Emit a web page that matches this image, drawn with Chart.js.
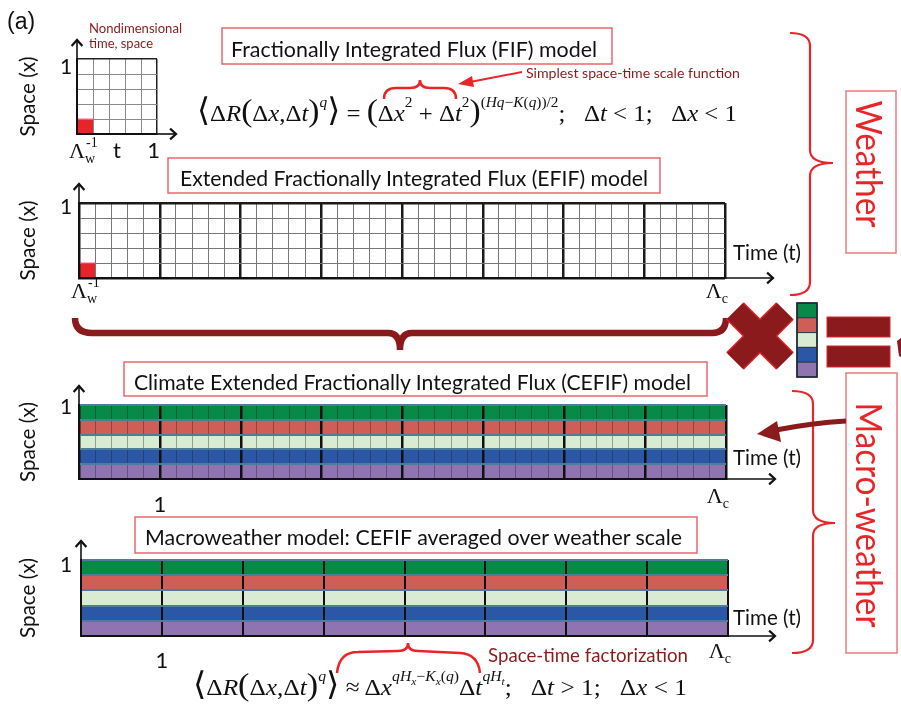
<!DOCTYPE html>
<html>
<head>
<meta charset="utf-8">
<title>FIF / CEFIF space-time models</title>
<script src="https://cdn.jsdelivr.net/npm/chart.js"></script>
<style>
  html, body { margin: 0; padding: 0; background: #fff; }
  #fig { position: relative; width: 901px; height: 705px; overflow: hidden; background: #fff; }
  #fig canvas { position: absolute; }
  #overlay { position: absolute; left: 0; top: 0; pointer-events: none; }
</style>
</head>
<body>
<div id="fig">
  <svg id="overlay" width="901" height="705" xmlns="http://www.w3.org/2000/svg"></svg>
</div>
<script>
// space is split into five bands, listed top to bottom
const spaceBands = ['0.8-1.0', '0.6-0.8', '0.4-0.6', '0.2-0.4', '0.0-0.2'];
const bandColors = ['#078a48', '#cf5f56', '#d9ebd3', '#2c57a7', '#8f74b1'];

// time extent of each model, in units of the weather scale
const fifSpan = 1;
const climateSpan = 8;

// one weather-resolution cell (Λw^-1), same size in space and time
const cellSize = 0.2;
const smallestCell = [0, cellSize];

// time-axis tick labels: [value, label]  (base_sub^sup)
const fifTicks = [[0, 'Λ_w^-1'], [0.5, 't'], [1, '1']];
const efifTicks = [[0, 'Λ_w^-1'], [8, 'Λ_c']];
const cefifTicks = [[1, '1'], [8, 'Λ_c']];
const macroTicks = [[1, '1'], [8, 'Λ_c']];

const SANS = "Lato, 'Open Sans', sans-serif";
const SERIF = "'Liberation Serif', 'DejaVu Serif', serif";
const RED = '#e8262a';
const DARKRED = '#8b1a1c';
const PAD = 3;

const fig = document.getElementById('fig');
const svg = document.getElementById('overlay');
const NS = 'http://www.w3.org/2000/svg';

function el(tag, attrs, parent = svg) {
  const e = document.createElementNS(NS, tag);
  for (const k in attrs) e.setAttribute(k, attrs[k]);
  parent.appendChild(e);
  return e;
}

function txt(x, y, s, o = {}) {
  const t = el('text', {
    x, y,
    'font-family': o.font || SANS,
    'font-size': o.size || 20,
    fill: o.fill || '#111',
    'text-anchor': o.anchor || 'start'
  });
  if (o.len) {
    t.setAttribute('textLength', o.len);
    t.setAttribute('lengthAdjust', 'spacingAndGlyphs');
  }
  if (o.rot) t.setAttribute('transform', `rotate(${o.rot} ${x} ${y})`);
  t.textContent = s;
  return t;
}

// formula text: lv 0 = base, 1 = superscript, 2 = subscript inside a superscript
function mathText(x, y, parts, size, len) {
  const t = el('text', { x, y, 'font-family': SERIF, 'font-size': size, fill: '#111' });
  const shifts = { 0: 0, 1: -14, 2: -10 };
  const sizes = { 0: size, 1: size * 0.62, 2: size * 0.45 };
  let shift = 0;
  for (const p of parts) {
    const lv = p.lv || 0;
    const s = el('tspan', { dy: shifts[lv] - shift, 'font-size': p.big ? size * 1.35 : sizes[lv] }, t);
    if (p.i) s.setAttribute('font-style', 'italic');
    s.textContent = p.t;
    shift = shifts[lv];
  }
  if (len) {
    t.setAttribute('textLength', len);
    t.setAttribute('lengthAdjust', 'spacingAndGlyphs');
  }
}

// axis label like Λ_w^-1 : base, optional subscript, optional superscript
function tickLabel(x, y, label, anchor) {
  const m = label.match(/^([^_^]+)(?:_([^^]+))?(?:\^(.+))?$/);
  const serif = m[1] === 'Λ';
  const t = el('text', { x, y, 'font-family': serif ? SERIF : SANS, 'font-size': 22, fill: '#111', 'text-anchor': anchor });
  el('tspan', {}, t).textContent = m[1];
  if (m[2]) el('tspan', { dy: 5, 'font-size': 14 }, t).textContent = m[2];
  if (m[3]) el('tspan', { dx: m[2] ? -9 : 0, dy: m[2] ? -16 : -10, 'font-size': 14 }, t).textContent = m[3];
}

function axisArrow(x1, y1, x2, y2) {
  el('line', { x1, y1, x2, y2, stroke: '#111', 'stroke-width': 1.6 });
  const a = Math.atan2(y2 - y1, x2 - x1), s = 8;
  const p1 = [x2 + s * Math.cos(a + 2.4), y2 + s * Math.sin(a + 2.4)];
  const p2 = [x2 + s * Math.cos(a - 2.4), y2 + s * Math.sin(a - 2.4)];
  el('polyline', { points: `${p1} ${x2},${y2} ${p2}`, fill: 'none', stroke: '#111', 'stroke-width': 2.2 });
}

// grid panels (pixel box of the plot area and styling)
const panels = [
  { x: 77, y: 59, w: 80, h: 75, span: fifSpan, step: cellSize, colored: false, ticks: fifTicks,
    inner: '#8a8a8a', frame: '#222', thick: 1.5, oneDy: 15, lamDy: 24, numDy: 24, arrowTo: 176, timeBase: null },
  { x: 79, y: 203, w: 646, h: 75, span: climateSpan, step: cellSize, colored: false, ticks: efifTicks,
    inner: '#777', frame: '#1a1a1a', thick: 2.5, oneDy: 11, lamDy: 20, numDy: 20, arrowTo: 773, timeBase: 260 },
  { x: 79, y: 405, w: 647, h: 74, span: climateSpan, step: cellSize, colored: true, ticks: cefifTicks,
    inner: 'rgba(25,25,25,0.36)', frame: '#111', thick: 2.5, oneDy: 9, lamDy: 24, numDy: 33, arrowTo: 775, timeBase: 465 },
  { x: 81, y: 560, w: 647, h: 76, span: climateSpan, step: 1, colored: true, ticks: macroTicks,
    inner: '#111', frame: '#111', thick: 2, oneDy: 12, lamDy: 22, numDy: 32, arrowTo: 775, timeBase: 625 }
];

const isWhole = v => Math.abs(v - Math.round(v)) < 1e-6;

function buildPanel(p) {
  const canvas = document.createElement('canvas');
  canvas.width = p.w + 2 * PAD;
  canvas.height = p.h + 2 * PAD;
  canvas.style.left = (p.x - PAD) + 'px';
  canvas.style.top = (p.y - PAD) + 'px';
  fig.insertBefore(canvas, svg);

  const data = p.colored
    ? spaceBands.map(() => [0, p.span])
    : spaceBands.map((b, i) => (i === spaceBands.length - 1 ? smallestCell : null));

  const bandLine = '#4e7d9b';
  const chart = new Chart(canvas, {
    type: 'bar',
    data: {
      labels: spaceBands,
      datasets: [{
        data,
        backgroundColor: p.colored ? bandColors : '#e8242b',
        borderWidth: 0,
        barPercentage: 1,
        categoryPercentage: 1
      }]
    },
    options: {
      indexAxis: 'y',
      responsive: false,
      animation: false,
      events: [],
      layout: { padding: PAD },
      plugins: { legend: { display: false }, tooltip: { enabled: false } },
      scales: {
        x: {
          type: 'linear', min: 0, max: p.span,
          ticks: { display: false, stepSize: p.step },
          grid: {
            drawTicks: false, z: 1,
            color: c => (c.tick && isWhole(c.tick.value) ? p.frame : p.inner),
            lineWidth: c => (c.tick && isWhole(c.tick.value) ? p.thick : 1)
          },
          border: { display: true, color: '#111', width: 2, z: 2 }
        },
        y: {
          type: 'category',
          ticks: { display: false },
          grid: {
            drawTicks: false, offset: true, z: 1,
            color: c => (p.colored ? bandLine : (c.index === 0 || c.index === undefined ? p.frame : p.inner)),
            lineWidth: c => (p.colored ? 2 : (c.index === 0 || c.index === undefined ? p.thick : 1))
          },
          border: { display: true, color: '#111', width: 2, z: 2 }
        }
      }
    }
  });

  // axes arrows and labels, placed from the chart's own scales
  const ox = p.x - PAD, oy = p.y - PAD;
  const ca = chart.chartArea;
  const L = ox + ca.left, R = ox + ca.right, T = oy + ca.top, B = oy + ca.bottom;
  axisArrow(L, T, L, T - 19);
  axisArrow(R, B, p.arrowTo, B);
  txt(66, T + p.oneDy, '1', { size: 21, anchor: 'middle' });
  txt(35, (T + B) / 2, 'Space (x)', { size: 22, anchor: 'middle', rot: -90, len: 80 });
  const xs = chart.scales.x;
  for (const [v, label] of p.ticks) {
    const px = ox + xs.getPixelForValue(v);
    const lam = label.startsWith('Λ');
    let anchor = 'middle', ax = px;
    if (v === xs.min) { anchor = 'start'; ax = px - 8; }
    else if (v === xs.max) { anchor = 'end'; ax = px + 3; }
    tickLabel(ax, B + (lam ? p.lamDy : p.numDy), label, anchor);
  }
  if (p.timeBase) txt(733, p.timeBase, 'Time (t)', { size: 21, len: 68 });
  return chart;
}

// titles in red-outlined boxes
const titles = [
  { box: [222, 28, 390, 36], text: 'Fractionally Integrated Flux (FIF) model', x: 231, base: 57, len: 366 },
  { box: [168, 158, 492, 35], text: 'Extended Fractionally Integrated Flux (EFIF) model', x: 180, base: 186, len: 468 },
  { box: [124, 362, 583, 34], text: 'Climate Extended Fractionally Integrated Flux (CEFIF) model', x: 134, base: 390, len: 557 },
  { box: [135, 517, 562, 36], text: 'Macroweather model: CEFIF averaged over weather scale', x: 145, base: 545, len: 537 }
];

// scaling laws
const eqFIF = [
  { t: '⟨', big: 1 }, { t: 'Δ' }, { t: 'R', i: 1 }, { t: '(', big: 1 }, { t: 'Δ' }, { t: 'x', i: 1 }, { t: ',Δ' }, { t: 't', i: 1 },
  { t: ')', big: 1 }, { t: 'q', i: 1, lv: 1 }, { t: '⟩', big: 1 },
  { t: ' = ' }, { t: '(', big: 1 }, { t: 'Δ' }, { t: 'x', i: 1 }, { t: '2', lv: 1 }, { t: ' + Δ' }, { t: 't', i: 1 }, { t: '2', lv: 1 },
  { t: ')', big: 1 }, { t: '(', lv: 1 }, { t: 'Hq', i: 1, lv: 1 }, { t: '−', lv: 1 }, { t: 'K', i: 1, lv: 1 }, { t: '(', lv: 1 },
  { t: 'q', i: 1, lv: 1 }, { t: '))/2', lv: 1 },
  { t: ';\u00a0\u00a0\u00a0Δ' }, { t: 't', i: 1 }, { t: ' < 1;\u00a0\u00a0\u00a0Δ' }, { t: 'x', i: 1 }, { t: ' < 1' }
];
const eqMacro = [
  { t: '⟨', big: 1 }, { t: 'Δ' }, { t: 'R', i: 1 }, { t: '(', big: 1 }, { t: 'Δ' }, { t: 'x', i: 1 }, { t: ',Δ' }, { t: 't', i: 1 },
  { t: ')', big: 1 }, { t: 'q', i: 1, lv: 1 }, { t: '⟩', big: 1 },
  { t: ' ≈ Δ' }, { t: 'x', i: 1 }, { t: 'qH', i: 1, lv: 1 }, { t: 'x', i: 1, lv: 2 }, { t: '−', lv: 1 }, { t: 'K', i: 1, lv: 1 },
  { t: 'x', i: 1, lv: 2 }, { t: '(', lv: 1 }, { t: 'q', i: 1, lv: 1 }, { t: ')', lv: 1 },
  { t: 'Δ' }, { t: 't', i: 1 }, { t: 'qH', i: 1, lv: 1 }, { t: 't', i: 1, lv: 2 },
  { t: ';\u00a0\u00a0\u00a0Δ' }, { t: 't', i: 1 }, { t: ' > 1;\u00a0\u00a0\u00a0Δ' }, { t: 'x', i: 1 }, { t: ' < 1' }
];

function drawFigure() {
  panels.forEach(buildPanel);

  txt(7, 29, '(a)', { size: 23, font: "'Liberation Sans', Arial, sans-serif" });
  txt(89, 33, 'Nondimensional', { size: 14, fill: DARKRED, len: 93 });
  txt(89, 48, 'time, space', { size: 14, fill: DARKRED, len: 64 });

  for (const t of titles) {
    const [bx, by, bw, bh] = t.box;
    el('rect', { x: bx, y: by, width: bw, height: bh, fill: '#fff', stroke: '#e9686b', 'stroke-width': 1.5 });
    txt(t.x, t.base, t.text, { size: 22, len: t.len });
  }

  mathText(197, 121, eqFIF, 24, 540);
  mathText(193, 695, eqMacro, 24, 494);

  // "simplest scale function" brace and pointer
  el('path', { d: 'M384,99 Q384,88 396,88 L410,88 Q420,88 420,80 Q420,88 430,88 L444,88 Q456,88 456,99',
    fill: 'none', stroke: RED, 'stroke-width': 2.5 });
  el('line', { x1: 522, y1: 72, x2: 470, y2: 82, stroke: RED, 'stroke-width': 2 });
  el('polygon', { points: '458,84 472,76 474,87', fill: RED });
  txt(526, 78, 'Simplest space-time scale function', { size: 14, fill: DARKRED, len: 214 });

  // factorization brace
  el('path', { d: 'M337,673 Q339,652 358,652 L398,651 Q408,651 408,643 Q408,651 418,651 L460,653 Q478,654 480,673',
    fill: 'none', stroke: RED, 'stroke-width': 2.5 });
  txt(488, 662, 'Space-time factorization', { size: 19, fill: DARKRED, len: 200 });

  // regime braces on the right
  el('path', { d: 'M790,33 Q810,33 810,46 L810,150 Q810,163 833,163 Q810,163 810,176 L810,282 Q810,295 790,295',
    fill: 'none', stroke: RED, 'stroke-width': 2.2 });
  el('path', { d: 'M792,391 Q813,391 813,404 L813,510 Q813,523 835,523 Q813,523 813,536 L813,640 Q813,653 792,653',
    fill: 'none', stroke: RED, 'stroke-width': 2.2 });
  el('rect', { x: 846, y: 91, width: 50, height: 162, fill: '#fff', stroke: '#ee7a7c', 'stroke-width': 1.5 });
  el('rect', { x: 846, y: 373, width: 51, height: 280, fill: '#fff', stroke: '#ee7a7c', 'stroke-width': 1.5 });
  txt(856, 164, 'Weather', { size: 36, fill: RED, anchor: 'middle', rot: 90, len: 127 });
  txt(856, 515, 'Macro-weather', { size: 36, fill: RED, anchor: 'middle', rot: 90, len: 225 });

  // weather panel spread over the climate range
  el('path', { d: 'M75,318 Q75,333 92,333 L388,333 Q400,333 400,350 Q400,333 412,333 L712,333 Q726,333 726,318',
    fill: 'none', stroke: DARKRED, 'stroke-width': 6.5 });

  // weather x bands = climate
  for (const [w, c] of [[25, '#d8262b'], [22, DARKRED]]) {
    el('line', { x1: 735, y1: 311, x2: 785, y2: 361, stroke: c, 'stroke-width': w });
    el('line', { x1: 785, y1: 311, x2: 735, y2: 361, stroke: c, 'stroke-width': w });
  }
  const cellH = 74 / bandColors.length;
  bandColors.forEach((col, i) => {
    el('rect', { x: 797, y: 303 + i * cellH, width: 20, height: cellH, fill: col, stroke: '#2d3a46', 'stroke-width': 1 });
  });
  el('rect', { x: 797, y: 303, width: 20, height: 74, fill: 'none', stroke: '#1d2a36', 'stroke-width': 1.6 });
  el('rect', { x: 827, y: 317, width: 63, height: 20, fill: DARKRED, stroke: '#d8262b', 'stroke-width': 1 });
  el('rect', { x: 827, y: 346, width: 63, height: 21, fill: DARKRED, stroke: '#d8262b', 'stroke-width': 1 });
  el('path', { d: 'M897,341 L901,338 L901,357 L899,356 Z', fill: DARKRED });

  // pointer from the macroweather label to the climate panel
  el('path', { d: 'M846,421 Q812,423 776,430', fill: 'none', stroke: DARKRED, 'stroke-width': 5 });
  el('polygon', { points: '757,434 777,421 781,442', fill: DARKRED });
}

drawFigure();
</script>
</body>
</html>
